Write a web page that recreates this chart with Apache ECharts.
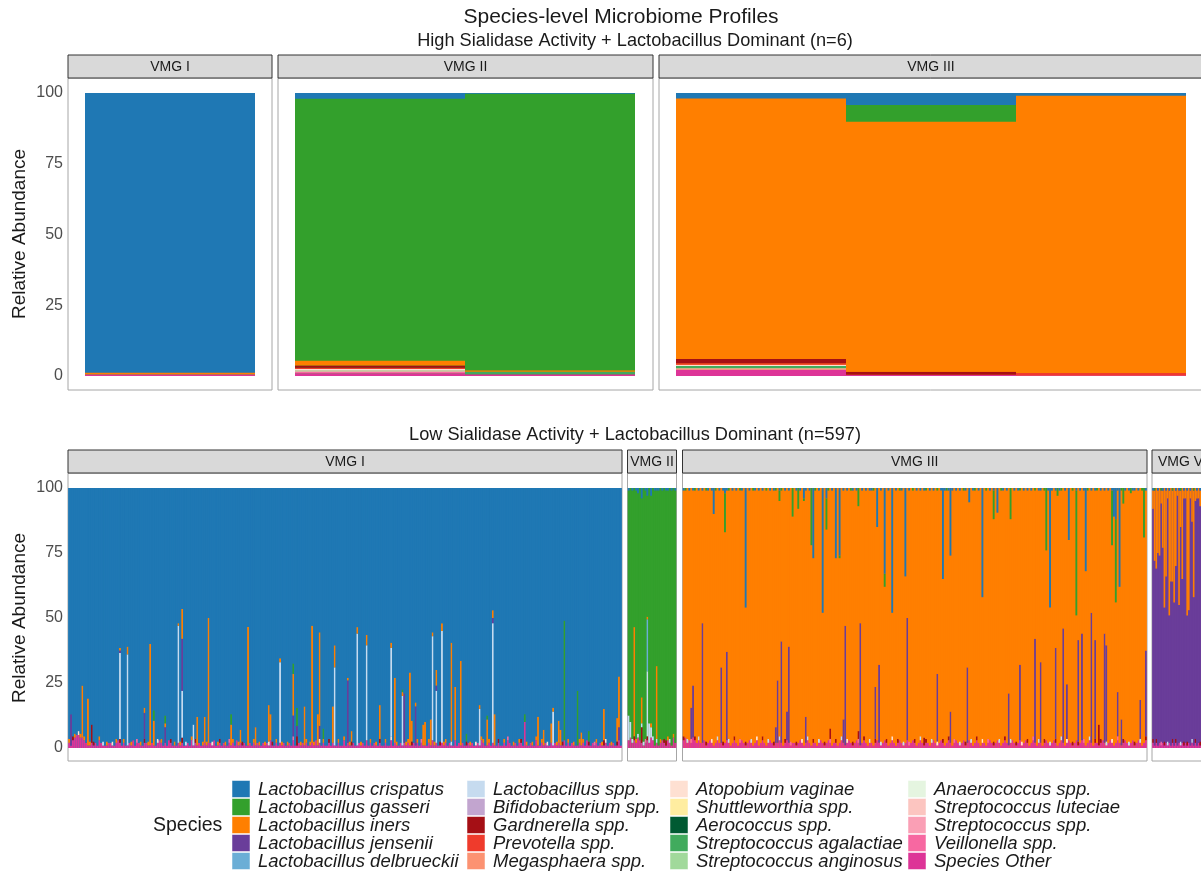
<!DOCTYPE html>
<html>
<head>
<meta charset="utf-8">
<title>Species-level Microbiome Profiles</title>
<script src="https://cdn.jsdelivr.net/npm/echarts@6/dist/echarts.min.js"></script>
<style>
  html, body { margin: 0; padding: 0; background: #fff; }
  #main { width: 1201px; height: 872px; }
</style>
</head>
<body>
<div id="main"></div>
<script>
// species, in legend order (first one sits on top of the stack)
const species = ['Lactobacillus crispatus', 'Lactobacillus gasseri', 'Lactobacillus iners', 'Lactobacillus jensenii',
    'Lactobacillus delbrueckii', 'Lactobacillus spp.', 'Bifidobacterium spp.', 'Gardnerella spp.', 'Prevotella spp.',
    'Megasphaera spp.', 'Atopobium vaginae', 'Shuttleworthia spp.', 'Aerococcus spp.', 'Streptococcus agalactiae',
    'Streptococcus anginosus', 'Anaerococcus spp.', 'Streptococcus luteciae', 'Streptococcus spp.', 'Veillonella spp.',
    'Species Other'];
// one letter per species, same order
const codes = 'abcdefghijklmnopqrst';
const colors = ['#1f78b4', '#33a02c', '#ff7f00', '#6a3d9a', '#6baed6', '#c6dbef', '#c2a5cf', '#a50f15', '#ef3b2c',
    '#fc9272', '#fee0d2', '#ffeda0', '#005a32', '#41ab5d', '#a1d99b', '#e5f5e0', '#fcc5c0', '#fa9fb5', '#f768a1', '#dd3497'];
const yTicks = [0, 25, 50, 75, 100];

// ---- High sialidase (n=6): [sample, code, value, code, value ...], dominant species fills the rest
const highVmg1Spikes = [[0, 'c', 0.7, 't', 0.5]];
const highVmg2Spikes = [
    [0, 't', 1.0, 's', 0.5, 'k', 0.6, 'i', 0.4, 'h', 0.8, 'q', 0.4, 'c', 1.8, 'a', 2.0],
    [1, 't', 0.6, 'n', 0.9, 'c', 0.5, 'a', 0.3]
];
const highVmg3Spikes = [
    [0, 't', 2.3, 'q', 0.4, 'n', 0.8, 'k', 0.5, 'i', 0.5, 'h', 1.5, 'a', 1.9],
    [1, 't', 0.4, 'h', 1.1, 'b', 6.0, 'a', 4.2],
    [2, 't', 0.3, 'i', 0.8, 'a', 1.0]
];

// ---- Low sialidase (n=597)
// per-sample "Species Other" percent (one digit per sample)
const lowVmg1Other = ['2134554432', '1121213211', '1221123212', '1121312211', '2211211232',
    '1213211121', '2112131212', '1121221311', '2121121213', '1212112121',
    '2112121311', '2121211213', '1121212112', '1312121121', '2112113121',
    '1211212131', '2121121121', '1312112121', '2112121211', '1213121121',
    '2121131212', '1121211213', '2112121121', '1213211212', '2121121131',
    '1212112121', '2113121211', '1212131121', '2121121212', '1131'].join('');
// small extra taxon per sample (1.5 %), '.' = none
const lowVmg1Minor = ['c.hc.kc.c.', '.c.h..c.f.', 'c..k.c.h.c', '.c.c..s.c.', 'h.c..c.k.c',
    '.c..h.c..c', 'c.f..c.h..', '.c.c..k..c', 'h..c.s.c..', 'c.h..c..c.',
    '.c..c.k.h.', 'c..c..c..s', '.h.c..c.c.', 'c..k.c..h.', '.c.c..c..c',
    'h..c.c..f.', 'c..c.h..c.', '.k..c..c.c', 'c.h..c.s..', '.c..c..h.c',
    'c..f.c..c.', '.h.c..k..c', 'c..c.c..h.', '.c.s..c..c', 'h..c..c.c.',
    '.c..k.c..c', 'c.h..c..c.', '.c.c..h..s', 'c..c.k..c.', '.hc.'].join('');
const lowVmg1Spikes = [
    [1, 'd', 12], [7, 'c', 20], [10, 'c', 18], [12, 'h', 7], [27, 'f', 33, 'd', 1, 'c', 1],
    [31, 'f', 35, 'c', 1.5], [40, 'd', 10, 'c', 2], [43, 'c', 39], [45, 'c', 8, 'b', 4], [51, 'd', 6, 'b', 3],
    [58, 'f', 45, 'c', 1], [60, 'f', 18, 'h', 2, 'd', 20, 'c', 10], [66, 'f', 8], [68, 'c', 11], [72, 'c', 10],
    [74, 'c', 48], [86, 'c', 8, 'b', 4], [91, 'c', 5], [95, 'c', 44], [99, 'c', 7],
    [106, 'c', 14], [107, 'c', 10], [112, 'f', 31, 'c', 1.5], [119, 'd', 8, 'c', 16, 'b', 4], [121, 'd', 4, 'h', 2, 'b', 7],
    [125, 'c', 15], [129, 'c', 45], [132, 'c', 12], [133, 'd', 5, 'c', 36], [135, 'b', 4],
    [140, 'c', 14], [141, 'f', 30, 'c', 7], [148, 'd', 24, 'c', 1], [150, 'c', 4], [153, 'f', 43, 'c', 1],
    [158, 'f', 35, 'c', 4], [165, 'c', 13], [171, 'f', 34, 'c', 2], [173, 'c', 25], [177, 'f', 19, 'b', 1],
    [178, 'd', 19], [181, 'c', 28], [182, 'c', 8], [184, 'd', 15, 'c', 1.5], [188, 'c', 8],
    [189, 'c', 9], [192, 'c', 10], [193, 'f', 40, 'c', 1.5], [195, 'f', 20, 'd', 2, 'c', 6], [198, 'f', 43, 'c', 3],
    [203, 'c', 38], [205, 'c', 19], [208, 'c', 31], [211, 'b', 3], [218, 'f', 14, 'c', 1.5],
    [222, 'c', 10, 'b', 1.5], [225, 'f', 46, 'd', 2, 'c', 1.5], [226, 'c', 12], [242, 't', 8, 'b', 3], [249, 'c', 11],
    [252, 'c', 6], [256, 'c', 6], [257, 'f', 13, 'c', 1.5], [260, 'c', 7], [261, 'c', 6],
    [263, 'b', 46], [270, 'b', 21], [272, 'c', 5], [276, 'b', 4], [284, 'h', 2, 'c', 12],
    [291, 'c', 9], [292, 'd', 5, 'c', 18]
];

const lowVmg2Other = '3423243212' + '3243121232' + '132142';
const lowVmg2Minor = 'f.fhcf.ffs' + 'hfcf.f.c.h' + '.cf.c.';
const lowVmg2Top = 'a.a.aa.a.a' + 'a.a.aaa.a.' + 'aa.a.a';
const lowVmg2Spikes = [
    [0, 'f', 8], [1, 'f', 6], [3, 'c', 42], [5, 'a', 1], [7, 'h', 6, 'c', 10, 'a', 3],
    [10, 'f', 25, 'e', 20, 'c', 1, 'a', 2], [11, 'f', 6], [12, 'f', 4, 'a', 2], [15, 'c', 28], [20, 'h', 2]
];

const lowVmg3Other = ['3423243232', '2312321232', '2123212321', '2321232123', '1232123212',
    '2321232122', '1232123212', '2123212321', '2212321232', '1232123212',
    '2123212321', '2321232123', '1232123212', '2123212321', '2321232123',
    '1232123212', '2123212321', '2321232123', '1232123212', '2123212321',
    '2321232123', '1232123212', '2123212321', '2321232123', '1232123'].join('');
const lowVmg3Minor = ['h.f.s.h.f.', '..h..k..f.', '.h..f..h..', 's..h..f..k', '..h..f..h.',
    '.f..h..s..', 'h..k..f..h', '..f..h..s.', '.h..f..k..', 'h..s..h..f',
    '..h..f..h.', '.k..h..f..', 's..h..f..h', '..f..k..h.', '.h..s..f..',
    'h..f..h..k', '..s..h..f.', '.h..f..h..', 'k..h..s..f', '..h..f..h.',
    '.f..k..h..', 'h..s..f..h', '..h..f..k.', '.s..h..f..', 'h..f..h'].join('');
// thin crispatus / gasseri edge along the top
const lowVmg3Top = ['ab.a.ab.a.', 'a.ba.a.b.a', '.a.ab.a.a.', 'ba.a.a.ba.', 'a.a.b.a.ab',
    '.ab.a.a.b.', 'a.a.ba.a.a', 'b.a.a.ab.a', '.a.b.a.a.b', 'a.ab.a.a.a',
    'ab.a.a.b.a', '.a.a.ba.a.', 'a.b.a.a.ab', '.a.a.b.a.a', 'ba.a.a.a.b',
    'a.a.ab.a.a', '.b.a.a.a.b', 'a.a.b.a.ab', '.a.a.a.b.a', 'a.b.a.a.a.',
    'ab.a.a.b.a', '.a.a.b.a.a', 'b.a.a.a.ba', '.a.b.a.a.a', 'a.a.b.a'].join('');
const lowVmg3Spikes = [
    // dips from the top
    [16, 'a', 10], [22, 'b', 15, 'a', 2], [33, 'a', 45], [51, 'b', 4], [58, 'b', 10],
    [61, 'b', 8], [64, 'a', 4], [68, 'b', 22], [69, 'a', 26], [74, 'a', 47],
    [76, 'b', 12, 'a', 3], [81, 'a', 26], [83, 'a', 26], [93, 'b', 6], [103, 'a', 14],
    [107, 'a', 33, 'b', 4], [111, 'a', 47], [118, 'a', 33], [138, 'a', 35], [142, 'a', 26],
    [152, 'a', 4.5], [159, 'a', 41], [165, 'b', 11], [167, 'a', 8.5], [174, 'b', 11],
    [193, 'b', 24], [195, 'a', 46], [199, 'b', 3], [205, 'a', 19], [209, 'b', 48],
    [214, 'a', 32], [228, 'b', 20, 'a', 1], [229, 'a', 10], [230, 'a', 12, 'b', 32], [232, 'a', 38],
    [234, 'b', 6], [238, 'b', 2], [245, 'b', 19],
    // jensenii and others from the bottom
    [4, 'd', 12], [5, 'd', 20], [10, 'd', 46], [20, 'd', 29], [23, 'd', 34],
    [49, 'd', 6], [50, 'd', 24], [52, 'd', 39], [55, 'd', 11], [56, 'd', 37],
    [65, 'd', 10], [78, 'h', 4], [85, 'd', 9], [86, 'd', 46], [93, 'h', 3],
    [94, 'd', 47], [102, 'd', 20], [104, 'd', 30], [119, 'd', 47], [128, 'h', 3],
    [135, 'd', 26], [142, 'd', 12], [151, 'd', 29], [173, 'd', 20], [179, 'd', 29],
    [187, 'd', 40], [190, 'd', 31], [198, 'd', 35], [202, 'd', 44], [204, 'd', 21],
    [210, 'd', 39], [212, 'd', 41], [217, 'd', 50], [219, 'd', 38], [221, 'h', 8],
    [224, 'd', 42], [225, 'd', 37], [231, 'd', 17], [233, 'd', 10], [243, 'd', 15],
    [246, 'd', 33]
];

const lowVmg5Other = '2121212121' + '2121212121' + '2121212121';
const lowVmg5Minor = 'h.h..s.h.f' + '..h.h..f.h' + '.h..f.h..h';
const lowVmg5Top = 'ab.a.ba.a.' + 'a.b.a.ab.a' + '.a.a.b.a.a';
// iners band sitting on top of the jensenii bars
const lowVmg5Iners = [7, 27, 31, 24, 26, 5, 22, 46, 33, 4, 48, 36, 35, 44, 29, 3, 44, 14, 35, 3, 4, 48, 47, 3, 13, 41, 5, 3, 4, 6];

// builds the [species][sample] matrix for one facet
function buildFacet(n, dom, d) {
    let rows = species.map(function() { return new Array(n).fill(0); });
    for (let i = 0; i < n; i++) {
        if (d.other) rows[19][i] += +(d.other[i] || 0);
        let m = d.minor && d.minor[i];
        if (m && m !== '.') rows[codes.indexOf(m)][i] += 1.5;
        let t = d.top && d.top[i];
        if (t && t !== '.') rows[codes.indexOf(t)][i] += 1;
    }
    (d.spikes || []).forEach(function(s) {
        for (let j = 1; j < s.length; j += 2) {
            rows[codes.indexOf(s[j])][s[0]] += s[j + 1];
        }
    });
    if (d.cols) {
        Object.keys(d.cols).forEach(function(c) {
            d.cols[c].forEach(function(v, i) { rows[codes.indexOf(c)][i] += v; });
        });
    }
    let di = codes.indexOf(dom);
    for (let i = 0; i < n; i++) {
        let sum = 0;
        rows.forEach(function(r, k) { if (k !== di) sum += r[i]; });
        rows[di][i] = Math.max(0, 100 - sum);
    }
    return rows;
}

// layout of the two rows of facets
const rowLayout = [
    { strip: 55, panelTop: 78, panelBottom: 390, gridTop: 93, gridH: 283, yTitle: 234 },
    { strip: 450, panelTop: 473, panelBottom: 761, gridTop: 488, gridH: 260, yTitle: 618 }
];

const facets = [
    { label: 'VMG I', row: 0, panel: [68, 272], bars: [85, 255], dom: 'a', rows: buildFacet(1, 'a', { spikes: highVmg1Spikes }) },
    { label: 'VMG II', row: 0, panel: [278, 653], bars: [295, 635], dom: 'b', rows: buildFacet(2, 'b', { spikes: highVmg2Spikes }) },
    { label: 'VMG III', row: 0, panel: [659, 1203], bars: [676, 1186], dom: 'c', rows: buildFacet(3, 'c', { spikes: highVmg3Spikes }) },
    { label: 'VMG I', row: 1, panel: [68, 622], bars: [68.2, 621.8], dom: 'a',
        rows: buildFacet(294, 'a', { other: lowVmg1Other, minor: lowVmg1Minor, spikes: lowVmg1Spikes }) },
    { label: 'VMG II', row: 1, panel: [627.5, 676.5], bars: [627.7, 676.3], dom: 'b',
        rows: buildFacet(26, 'b', { other: lowVmg2Other, minor: lowVmg2Minor, top: lowVmg2Top, spikes: lowVmg2Spikes }) },
    { label: 'VMG III', row: 1, panel: [682.5, 1147], bars: [682.7, 1146.8], dom: 'c',
        rows: buildFacet(247, 'c', { other: lowVmg3Other, minor: lowVmg3Minor, top: lowVmg3Top, spikes: lowVmg3Spikes }) },
    { label: 'VMG V', row: 1, panel: [1152, 1209], bars: [1152.2, 1208.6], dom: 'd',
        rows: buildFacet(30, 'd', { other: lowVmg5Other, minor: lowVmg5Minor, top: lowVmg5Top, cols: { c: lowVmg5Iners } }) }
];

let grids = [], xAxes = [], yAxes = [], series = [], graphics = [];

facets.forEach(function(f, k) {
    let rl = rowLayout[f.row];
    let first = k === 0 || facets[k - 1].row !== f.row;
    // grid painted in the dominant colour so the hairlines between thin bars don't show white
    grids.push({
        left: f.bars[0], top: rl.gridTop, width: f.bars[1] - f.bars[0], height: rl.gridH,
        show: true, backgroundColor: colors[codes.indexOf(f.dom)], borderWidth: 0
    });
    xAxes.push({
        type: 'category', gridIndex: k, show: false, boundaryGap: true,
        data: f.rows[0].map(function(v, i) { return 's' + i; })
    });
    yAxes.push({
        type: 'value', gridIndex: k, min: yTicks[0], max: yTicks[yTicks.length - 1], interval: 25,
        show: first,
        axisLine: { show: false },
        axisTick: { show: false },
        splitLine: { show: false },
        axisLabel: { margin: f.bars[0] - 63, fontSize: 16, color: '#4d4d4d', fontFamily: 'Liberation Sans' }
    });
    // bottom of the stack first
    for (let s = species.length - 1; s >= 0; s--) {
        series.push({
            type: 'bar',
            name: species[s],
            xAxisIndex: k,
            yAxisIndex: k,
            stack: 'f' + k,
            barWidth: '100%',
            barCategoryGap: '0%',
            silent: true,
            itemStyle: { color: colors[s] },
            data: f.rows[s]
        });
    }
    // panel border
    graphics.push({
        type: 'rect', z: 0,
        shape: { x: f.panel[0], y: rl.panelTop, width: f.panel[1] - f.panel[0], height: rl.panelBottom - rl.panelTop },
        style: { fill: 'none', stroke: '#a6a6a6', lineWidth: 1 }
    });
    // strip
    graphics.push({
        type: 'rect', z: 10,
        shape: { x: f.panel[0], y: rl.strip, width: f.panel[1] - f.panel[0], height: rl.panelTop - rl.strip },
        style: { fill: '#d9d9d9', stroke: '#333333', lineWidth: 1 }
    });
    graphics.push({
        type: 'text', z: 11,
        x: (f.panel[0] + f.panel[1]) / 2, y: (rl.strip + rl.panelTop) / 2 + 1,
        style: { text: f.label, fontSize: 14, fill: '#1a1a1a', fontFamily: 'Liberation Sans', textAlign: 'center', textVerticalAlign: 'middle' }
    });
});

// titles
function addText(txt, x, y, size, extra) {
    graphics.push(Object.assign({
        type: 'text', z: 11, x: x, y: y,
        style: { text: txt, fontSize: size, fill: '#1a1a1a', fontFamily: 'Liberation Sans', textAlign: 'center', textVerticalAlign: 'middle' }
    }, extra || {}));
}
addText('Species-level Microbiome Profiles', 621, 17, 21);
addText('High Sialidase Activity + Lactobacillus Dominant (n=6)', 635, 41, 18.2);
addText('Low Sialidase Activity + Lactobacillus Dominant (n=597)', 635, 435, 18.2);
rowLayout.forEach(function(rl) {
    addText('Relative Abundance', 20, rl.yTitle, 19, { rotation: Math.PI / 2 });
});
graphics.push({
    type: 'text', z: 11, x: 153, y: 826,
    style: { text: 'Species', fontSize: 19.5, fill: '#1a1a1a', fontFamily: 'Liberation Sans', textAlign: 'left', textVerticalAlign: 'middle' }
});

// legend: four columns of five keys, drawn by hand
const legendX = [232, 467, 670, 908];
species.forEach(function(name, i) {
    let x = legendX[Math.floor(i / 5)];
    let y = 789 + (i % 5) * 18;
    graphics.push({
        type: 'rect', z: 11,
        shape: { x: x, y: y - 8.5, width: 18, height: 17 },
        style: { fill: colors[i], stroke: '#ffffff', lineWidth: 0.5 }
    });
    graphics.push({
        type: 'text', z: 11, x: x + 26, y: y + 0.5,
        style: { text: name, fontSize: 18.5, fontStyle: 'italic', fill: '#1a1a1a', fontFamily: 'Liberation Sans', textAlign: 'left', textVerticalAlign: 'middle' }
    });
});

let myChart = echarts.init(document.getElementById('main'), null, { renderer: 'canvas' });
myChart.setOption({
    animation: false,
    backgroundColor: '#ffffff',
    grid: grids,
    xAxis: xAxes,
    yAxis: yAxes,
    graphic: graphics,
    series: series
});
</script>
</body>
</html>
